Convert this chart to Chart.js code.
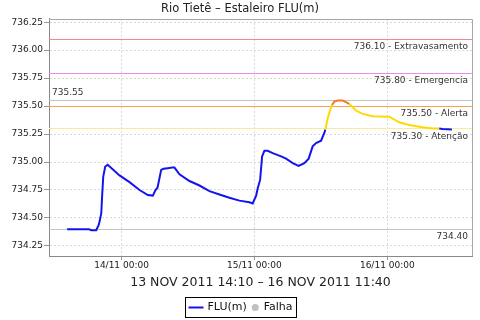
<!DOCTYPE html>
<html>
<head>
<meta charset="utf-8">
<script src="https://cdn.jsdelivr.net/npm/chart.js@4.4.1/dist/chart.umd.min.js"></script>
<style>
    html, body { margin: 0; padding: 0; background: #fff; }
    #wrap { width: 480px; height: 320px; }
</style>
</head>
<body>
<div id="wrap"><canvas id="chart"></canvas></div>
<script>
// hours counted from 14/11/2011 00:00
const hours = [-9.83, -5.9, -5.47, -4.57, -4.1, -3.92, -3.66, -3.48, -3.3, -2.94, -2.5,
    -0.36, 1.44, 3.25, 4.75, 5.65, 6.14, 6.5, 7.16, 7.58, 8.36, 9.15, 9.56, 10.47, 12.27,
    14.08, 15.88, 17.68, 19.49, 21.29, 23.1, 23.69, 24.31, 24.6, 25.03, 25.39, 25.8, 26.4,
    27.3, 28.82, 29.72, 30.91, 31.99, 33.02, 33.8, 34.52, 35.13, 36.04, 36.63, 36.81, 37.23,
    37.66, 38.02, 38.44, 39.03, 39.93, 41.14, 42.35, 43.54, 45.35, 48.36, 50.16, 51.97,
    54.37, 56.17, 57.38, 57.98, 59.67];
const levels = [734.40, 734.40, 734.39, 734.39, 734.44, 734.48, 734.54, 734.72, 734.87, 734.96, 734.975,
    734.88, 734.82, 734.75, 734.705, 734.70, 734.75, 734.77, 734.93, 734.94, 734.945, 734.95, 734.95, 734.89, 734.83,
    734.79, 734.74, 734.71, 734.68, 734.655, 734.64, 734.63, 734.70, 734.765, 734.84, 735.05, 735.10, 735.10,
    735.08, 735.05, 735.03, 734.99, 734.965, 734.99, 735.03, 735.14, 735.17, 735.19, 735.26, 735.29, 735.39,
    735.46, 735.51, 735.54, 735.55, 735.55, 735.52, 735.46, 735.43, 735.41, 735.405, 735.355, 735.33,
    735.31, 735.30, 735.30, 735.295, 735.29];

const xTickHours = [0, 24, 48];
const xTickLabels = ['14/11 00:00', '15/11 00:00', '16/11 00:00'];
const yTickValues = [734.25, 734.50, 734.75, 735.00, 735.25, 735.50, 735.75, 736.00, 736.25];

const limitValues = [736.10, 735.80, 735.55, 735.50, 735.30, 734.40];
const limitLabels = ['736.10 - Extravasamento', '735.80 - Emergencia', '735.55', '735.50 - Alerta', '735.30 - Atenção', '734.40'];
const legendNames = ['FLU(m)', 'Falha'];

// styles
const limitColors = ['#f08c8c', '#ee88ee', '#c4c4c4', '#f2a550', '#f8ec98', '#c4c4c4'];
const limitAbove = [false, false, true, false, false, false];
const BLUE = '#1414ee', YELLOW = '#ffd800', ORANGE = '#f07c1c';
const FONT = '"DejaVu Sans", sans-serif';

Chart.defaults.font.family = FONT;
Chart.defaults.color = '#222';

function levelColor(v) {
    if (v >= limitValues[3]) return ORANGE;
    if (v >= limitValues[4]) return YELLOW;
    return BLUE;
}

const limitsPlugin = {
    id: 'limits',
    beforeDatasetsDraw(chart) {
        const { ctx, chartArea: a, scales: { y } } = chart;
        ctx.save();
        ctx.lineWidth = 1;
        // plot outline, top and right
        ctx.strokeStyle = '#a8a8a8';
        ctx.beginPath();
        ctx.moveTo(a.left, Math.round(a.top) + 0.5);
        ctx.lineTo(Math.round(a.right) + 0.5, Math.round(a.top) + 0.5);
        ctx.lineTo(Math.round(a.right) + 0.5, a.bottom);
        ctx.stroke();

        limitValues.forEach((v, i) => {
            const py = Math.round(y.getPixelForValue(v)) + 0.5;
            ctx.strokeStyle = limitColors[i];
            ctx.beginPath();
            ctx.moveTo(a.left, py);
            ctx.lineTo(a.right, py);
            ctx.stroke();
        });

        ctx.font = '9px ' + FONT;
        ctx.fillStyle = '#333';
        ctx.textBaseline = 'middle';
        limitValues.forEach((v, i) => {
            const py = y.getPixelForValue(v);
            if (limitAbove[i]) {
                ctx.textAlign = 'left';
                ctx.fillText(limitLabels[i], a.left + 3, py - 8);
            } else {
                ctx.textAlign = 'right';
                ctx.fillText(limitLabels[i], a.right - 4, py + 8);
            }
        });
        ctx.restore();
    }
};

const boxLegendPlugin = {
    id: 'boxLegend',
    afterDraw(chart) {
        const ctx = chart.ctx;
        ctx.save();
        ctx.font = '11px ' + FONT;
        const w1 = ctx.measureText(legendNames[0]).width;
        const w2 = ctx.measureText(legendNames[1]).width;
        const total = Math.round(3 + 15 + 4 + w1 + 5 + 7 + 5 + w2 + 4);
        const left = Math.round(chart.width / 2 - total / 2) + 0.5;
        const top = 297.5, h = 20, cy = top + h / 2;

        ctx.strokeStyle = '#000';
        ctx.lineWidth = 1;
        ctx.strokeRect(left, top, total, h);

        let x = left + 3;
        ctx.strokeStyle = BLUE;
        ctx.lineWidth = 2;
        ctx.beginPath();
        ctx.moveTo(x, cy);
        ctx.lineTo(x + 15, cy);
        ctx.stroke();
        x += 15 + 4;

        ctx.fillStyle = '#111';
        ctx.textBaseline = 'middle';
        ctx.textAlign = 'left';
        ctx.fillText(legendNames[0], x, cy);
        x += w1 + 5;

        ctx.fillStyle = '#c0c0c0';
        ctx.beginPath();
        ctx.arc(x + 3.5, cy, 3.5, 0, Math.PI * 2);
        ctx.fill();
        x += 7 + 5;

        ctx.fillStyle = '#111';
        ctx.fillText(legendNames[1], x, cy);
        ctx.restore();
    }
};

new Chart(document.getElementById('chart'), {
    type: 'line',
    data: {
        datasets: [{
            label: legendNames[0],
            data: hours.map((h, i) => ({ x: h, y: levels[i] })),
            borderColor: BLUE,
            borderWidth: 2,
            pointRadius: 0,
            tension: 0,
            segment: {
                borderColor: c => levelColor((c.p0.parsed.y + c.p1.parsed.y) / 2)
            }
        }]
    },
    options: {
        responsive: true,
        maintainAspectRatio: false,
        animation: false,
        events: [],
        layout: { padding: { left: 8, right: 8, top: 0, bottom: 28 } },
        plugins: {
            legend: { display: false },
            tooltip: { enabled: false },
            title: {
                display: true,
                text: 'Rio Tietê – Estaleiro FLU(m)',
                font: { size: 11.5, weight: 'normal' },
                color: '#222',
                padding: { top: 2, bottom: 3 }
            }
        },
        scales: {
            x: {
                type: 'linear',
                min: -13.1,
                max: 63.3,
                afterBuildTicks: axis => { axis.ticks = xTickHours.map(v => ({ value: v })); },
                afterFit: scale => { scale.height = 36; },
                ticks: {
                    autoSkip: false,
                    maxRotation: 0,
                    padding: 0,
                    font: { size: 9 },
                    callback: v => xTickLabels[xTickHours.indexOf(v)]
                },
                grid: { color: '#d8d8d8', tickColor: '#999', tickLength: 4 },
                border: { color: '#888', dash: [2, 2] },
                title: {
                    display: true,
                    text: '13 NOV 2011 14:10 – 16 NOV 2011 11:40',
                    font: { size: 12.5 },
                    color: '#222',
                    padding: { top: 0, bottom: 2 }
                }
            },
            y: {
                min: 734.16,
                max: 736.28,
                afterBuildTicks: axis => { axis.ticks = yTickValues.map(v => ({ value: v })); },
                afterFit: scale => { scale.width = 41; },
                ticks: {
                    padding: 1,
                    font: { size: 9 },
                    callback: v => v.toFixed(2)
                },
                grid: { color: '#d8d8d8', tickColor: '#999', tickLength: 5 },
                border: { color: '#888', dash: [2, 2] }
            }
        }
    },
    plugins: [limitsPlugin, boxLegendPlugin]
});
</script>
</body>
</html>
